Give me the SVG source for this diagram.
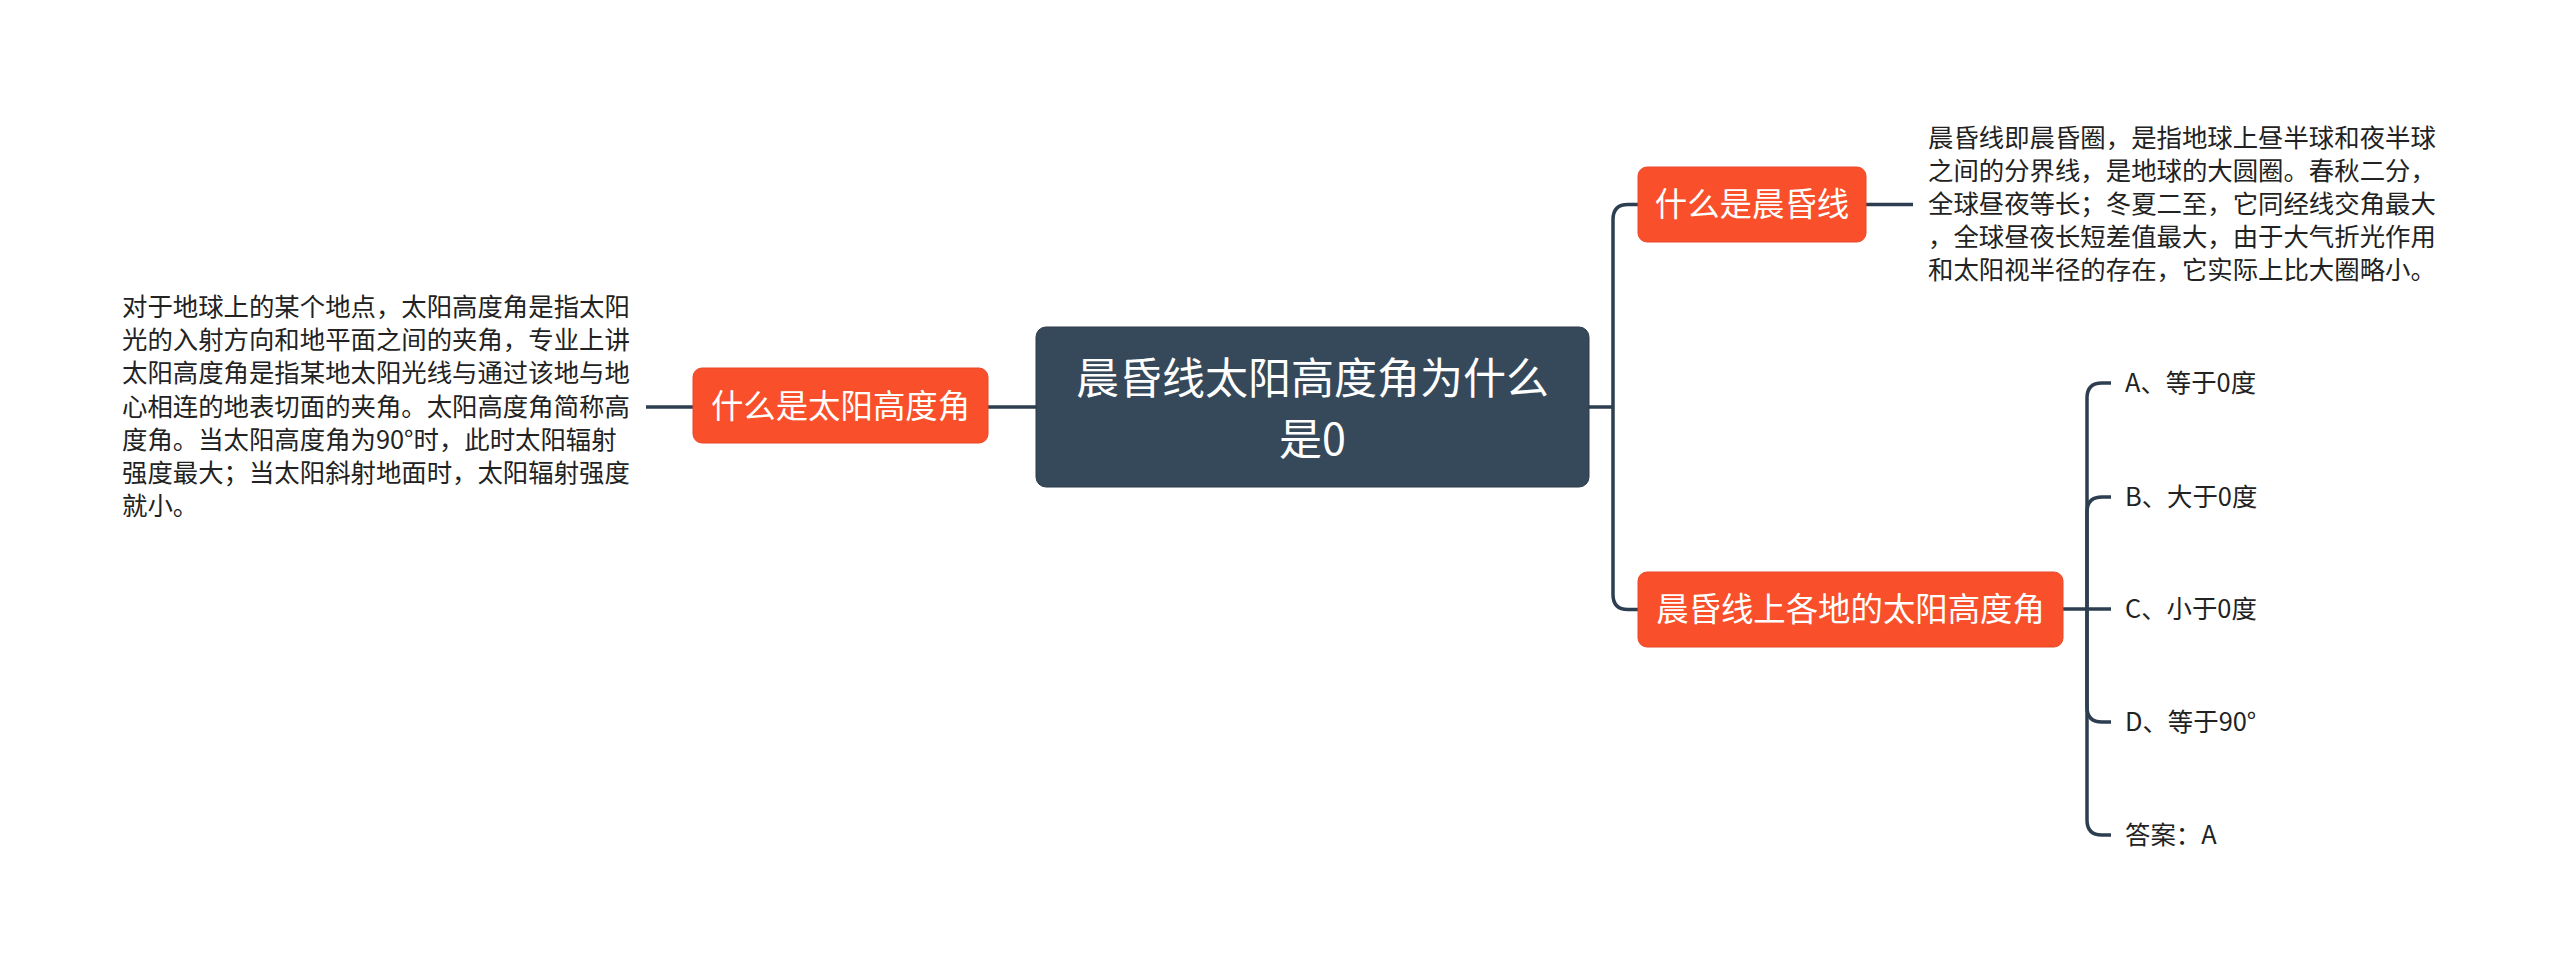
<svg xmlns="http://www.w3.org/2000/svg" width="2560" height="974" viewBox="0 0 2560 974">
<style>
.bg{fill:#ffffff}
.conn{fill:none;stroke:#2c3e50;stroke-width:3.5;stroke-linecap:butt}
.root{fill:#36495a;stroke:#2c3b4a;stroke-width:1}
.main{fill:#f9502b;stroke:#e8482a;stroke-width:1}
.t{font-family:"Noto Sans CJK SC","Liberation Sans",sans-serif}
.rt{font-size:43px;fill:#ffffff}
.mt{font-size:32.4px;fill:#ffffff}
.nt{font-size:25.4px;fill:#222222}
</style>
<rect class="bg" x="0" y="0" width="2560" height="974"/>
<g id="connectors">
<path class="conn" d="M1036 407 H988"/>
<path class="conn" d="M693 407 H646"/>
<path class="conn" d="M1589 407 H1613"/>
<path class="conn" d="M1613 407 V219.5 Q1613 204.5 1628 204.5 H1638"/>
<path class="conn" d="M1613 407 V594.5 Q1613 609.5 1628 609.5 H1638"/>
<path class="conn" d="M1866 204.5 H1913"/>
<path class="conn" d="M2063 609 H2111"/>
<path class="conn" d="M2087 609 V398 Q2087 383 2102 383 H2111"/>
<path class="conn" d="M2087 609 V512 Q2087 497 2102 497 H2111"/>
<path class="conn" d="M2087 609 V707 Q2087 722 2102 722 H2111"/>
<path class="conn" d="M2087 609 V820 Q2087 835 2102 835 H2111"/>
</g>
<g id="root">
<rect class="root" x="1036" y="327" width="553" height="160" rx="10" ry="10"/>
<text class="t rt" x="1312.5" y="394" text-anchor="middle">晨昏线太阳高度角为什么</text>
<text class="t rt" x="1312.5" y="455" text-anchor="middle">是0</text>
</g>
<g id="node-sun-angle">
<rect class="main" x="693" y="368" width="295" height="75" rx="9" ry="9"/>
<text class="t mt" x="840.5" y="418" text-anchor="middle">什么是太阳高度角</text>
</g>
<g id="note-sun-angle">
<text class="t nt" x="122" y="316">对于地球上的某个地点，太阳高度角是指太阳</text>
<text class="t nt" x="122" y="349.2">光的入射方向和地平面之间的夹角，专业上讲</text>
<text class="t nt" x="122" y="382.4">太阳高度角是指某地太阳光线与通过该地与地</text>
<text class="t nt" x="122" y="415.6">心相连的地表切面的夹角。太阳高度角简称高</text>
<text class="t nt" x="122" y="448.8">度角。当太阳高度角为90°时，此时太阳辐射</text>
<text class="t nt" x="122" y="482">强度最大；当太阳斜射地面时，太阳辐射强度</text>
<text class="t nt" x="122" y="515.2">就小。</text>
</g>
<g id="node-terminator">
<rect class="main" x="1638" y="167" width="228" height="75" rx="9" ry="9"/>
<text class="t mt" x="1752" y="216" text-anchor="middle">什么是晨昏线</text>
</g>
<g id="note-terminator">
<text class="t nt" x="1928" y="147">晨昏线即晨昏圈，是指地球上昼半球和夜半球</text>
<text class="t nt" x="1928" y="180">之间的分界线，是地球的大圆圈。春秋二分，</text>
<text class="t nt" x="1928" y="213">全球昼夜等长；冬夏二至，它同经线交角最大</text>
<text class="t nt" x="1928" y="246">，全球昼夜长短差值最大，由于大气折光作用</text>
<text class="t nt" x="1928" y="279">和太阳视半径的存在，它实际上比大圈略小。</text>
</g>
<g id="node-question">
<rect class="main" x="1638" y="572" width="425" height="75" rx="9" ry="9"/>
<text class="t mt" x="1850.5" y="621" text-anchor="middle">晨昏线上各地的太阳高度角</text>
</g>
<g id="option-a">
<text class="t nt" x="2125" y="392">A、等于0度</text>
</g>
<g id="option-b">
<text class="t nt" x="2125" y="506">B、大于0度</text>
</g>
<g id="option-c">
<text class="t nt" x="2125" y="618">C、小于0度</text>
</g>
<g id="option-d">
<text class="t nt" x="2125" y="731">D、等于90°</text>
</g>
<g id="answer">
<text class="t nt" x="2125" y="844">答案：A</text>
</g>
</svg>
